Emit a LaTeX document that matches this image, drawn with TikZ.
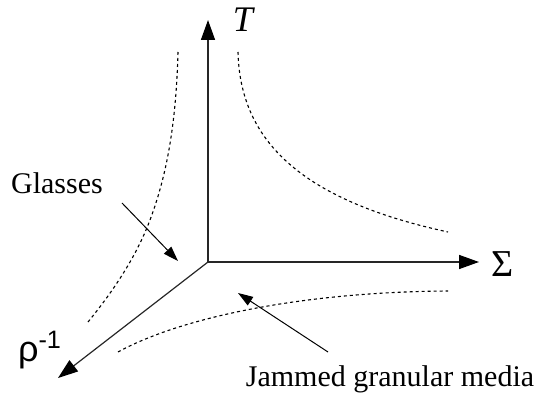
\documentclass[tikz,border=0pt]{standalone}
\usepackage{fontspec}
\setmainfont{Liberation Serif}
\setsansfont{Liberation Sans}
\usetikzlibrary{arrows.meta,positioning}
\tikzset{
  axis/.style={line width=0.75pt,draw=black!85,-{Triangle[length=10pt,width=7pt,color=black]}},
  ptr/.style={line width=0.5pt,-{Triangle[length=7.5pt,width=5pt]}},
  bound/.style={line width=0.55pt,dash pattern=on 1.5pt off 1.5pt},
  lbl/.style={inner sep=0pt,font=\fontsize{15}{18}\selectfont},
}
\begin{document}
\begin{tikzpicture}[x=0.5pt,y=-0.5pt]
  \useasboundingbox (0,0) rectangle (539,394);
  % --- axes ---
  \coordinate (O) at (208,262);
  \coordinate (Ttip) at (208,20);
  \coordinate (Stip) at (479,262);
  \coordinate (Rtip) at (58,378);
  \draw[axis] (O) -- (Ttip);
  \draw[axis] (O) -- (Stip);
  \draw[axis,line width=0.6pt] (O) -- (Rtip);
  \node[lbl,font=\fontsize{18}{20}\selectfont\itshape] (Tlab) at (243,20) {T};
  \node[lbl,font=\fontsize{19}{20}\selectfont] (Slab) at (503,264) {Σ};
  \node[lbl,font=\fontsize{18}{20}\sffamily] (Rlab) at (40,350) {ρ\textsuperscript{-1}};
  % --- boundaries (dotted) ---
  \draw[bound] (178,52) .. controls (176,130) and (165,180) .. (150,220)
    .. controls (135,260) and (110,295) .. (88,322);
  \draw[bound] (238,52) .. controls (240,140) and (300,200) .. (448,232);
  \draw[bound] (118,352) .. controls (180,318) and (300,292) .. (448,291);
  % --- labels with pointers ---
  \node[lbl] (Glasses) at (57,183) {Glasses};
  \coordinate (gtail) at (122,203);
  \coordinate (gtip) at (178,261);
  \draw[ptr] (gtail) -- (gtip);
  \node[lbl] (Jammed) at (390,379) {Jammed granular media};
  \coordinate (jtail) at (328,352);
  \coordinate (jtip) at (238,293);
  \draw[ptr] (jtail) -- (jtip);
\end{tikzpicture}
\end{document}
